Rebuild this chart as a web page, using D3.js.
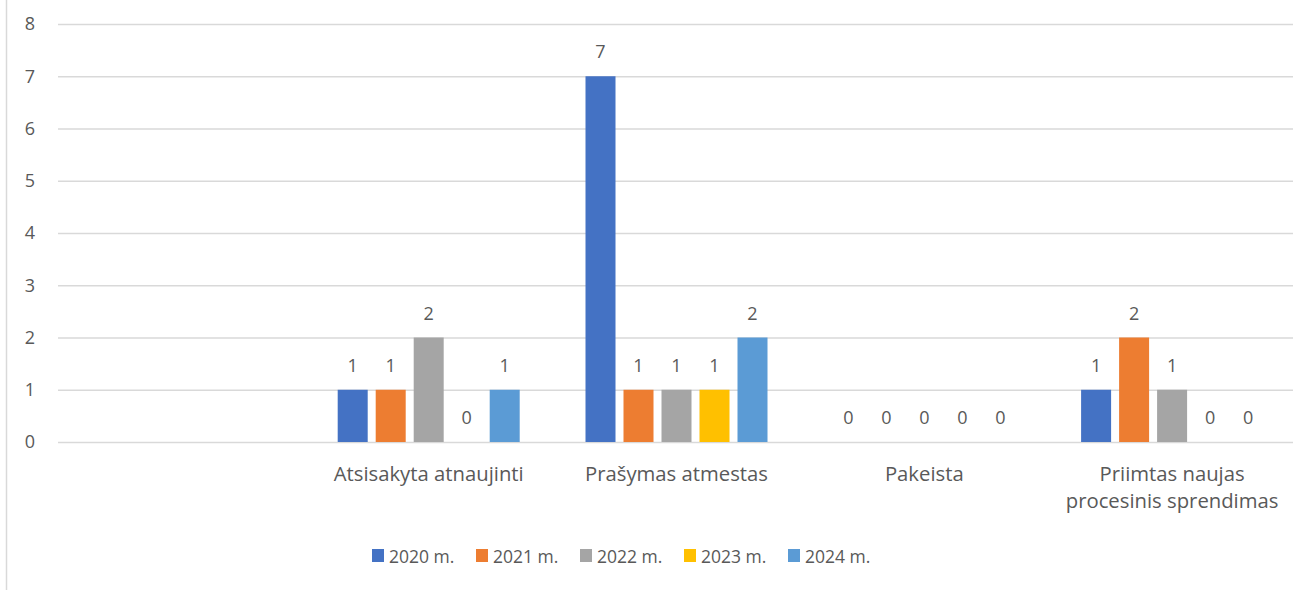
<!DOCTYPE html>
<html>
<head>
<meta charset="utf-8">
<script src="https://cdn.jsdelivr.net/npm/d3@7"></script>
<style>
  html, body { margin: 0; padding: 0; background: #fff; }
  svg { display: block; }
  text { font-family: "Open Sans", sans-serif; fill: #595959; }
</style>
</head>
<body>
<svg id="chart" width="1293" height="590"></svg>
<script>
const categories = ["", "Atsisakyta atnaujinti", "Prašymas atmestas", "Pakeista", "Priimtas naujas procesinis sprendimas"];
const categoryLines = [[""], ["Atsisakyta atnaujinti"], ["Prašymas atmestas"], ["Pakeista"], ["Priimtas naujas", "procesinis sprendimas"]];
const seriesNames = ["2020 m.", "2021 m.", "2022 m.", "2023 m.", "2024 m."];
const values2020 = [null, 1, 7, 0, 1];
const values2021 = [null, 1, 1, 0, 2];
const values2022 = [null, 2, 1, 0, 1];
const values2023 = [null, 0, 1, 0, 0];
const values2024 = [null, 1, 2, 0, 0];
const yTicks = [0, 1, 2, 3, 4, 5, 6, 7, 8];
const colors = ["#4472C4", "#ED7D31", "#A5A5A5", "#FFC000", "#5B9BD5"];

const seriesValues = [values2020, values2021, values2022, values2023, values2024];

const svg = d3.select("#chart");
const W = 1293, H = 590;
const plot = { left: 58, right: 1293, top: 24, bottom: 442 };

// chart border (left side visible)
svg.append("line").attr("x1", 6.5).attr("x2", 6.5).attr("y1", 0).attr("y2", H)
  .attr("stroke", "#D9D9D9").attr("stroke-width", 1.5);

const x0 = d3.scaleBand().domain(categories).range([57, 1296]).padding(0);
const x1 = d3.scaleBand().domain(seriesNames).range([-91, 91]).paddingInner(8 / 38).paddingOuter(0);
const y = d3.scaleLinear().domain([0, 8]).range([plot.bottom, plot.top]);

// gridlines + tick labels
const yAxis = d3.axisLeft(y).tickValues(yTicks).tickSize(-(plot.right - plot.left)).tickPadding(23);
const gy = svg.append("g").attr("transform", `translate(${plot.left},0)`).call(yAxis);
gy.select(".domain").remove();
gy.selectAll(".tick line").attr("stroke", "#D9D9D9").attr("stroke-width", 1.5);
gy.selectAll(".tick text").attr("font-size", 18).attr("fill", "#595959")
  .attr("font-family", "'Open Sans', sans-serif");

// bars
const groups = svg.append("g").selectAll("g").data(categories).join("g")
  .attr("transform", d => `translate(${x0(d) + x0.bandwidth() / 2},0)`);

seriesNames.forEach((s, si) => {
  groups.each(function (c, ci) {
    const v = seriesValues[si][ci];
    if (v === null) return;
    const g = d3.select(this);
    if (v > 0) {
      g.append("rect")
        .attr("x", x1(s)).attr("width", x1.bandwidth())
        .attr("y", y(v)).attr("height", y(0) - y(v))
        .attr("fill", colors[si]);
    }
    g.append("text")
      .attr("x", x1(s) + x1.bandwidth() / 2)
      .attr("y", y(v) - 18)
      .attr("text-anchor", "middle")
      .attr("font-size", 18)
      .text(v);
  });
});

// category labels
groups.each(function (c, ci) {
  const t = d3.select(this).append("text").attr("text-anchor", "middle").attr("font-size", 20.3);
  categoryLines[ci].forEach((line, li) => {
    t.append("tspan").attr("x", 0).attr("y", 481 + li * 27).text(line);
  });
});

// legend
const legend = svg.append("g").attr("transform", "translate(372,0)");
seriesNames.forEach((s, i) => {
  const g = legend.append("g").attr("transform", `translate(${i * 104},0)`);
  g.append("rect").attr("x", 0).attr("y", 549).attr("width", 12).attr("height", 13).attr("fill", colors[i]);
  g.append("text").attr("x", 17).attr("y", 563).attr("font-size", 17.5).text(s);
});
</script>
</body>
</html>
